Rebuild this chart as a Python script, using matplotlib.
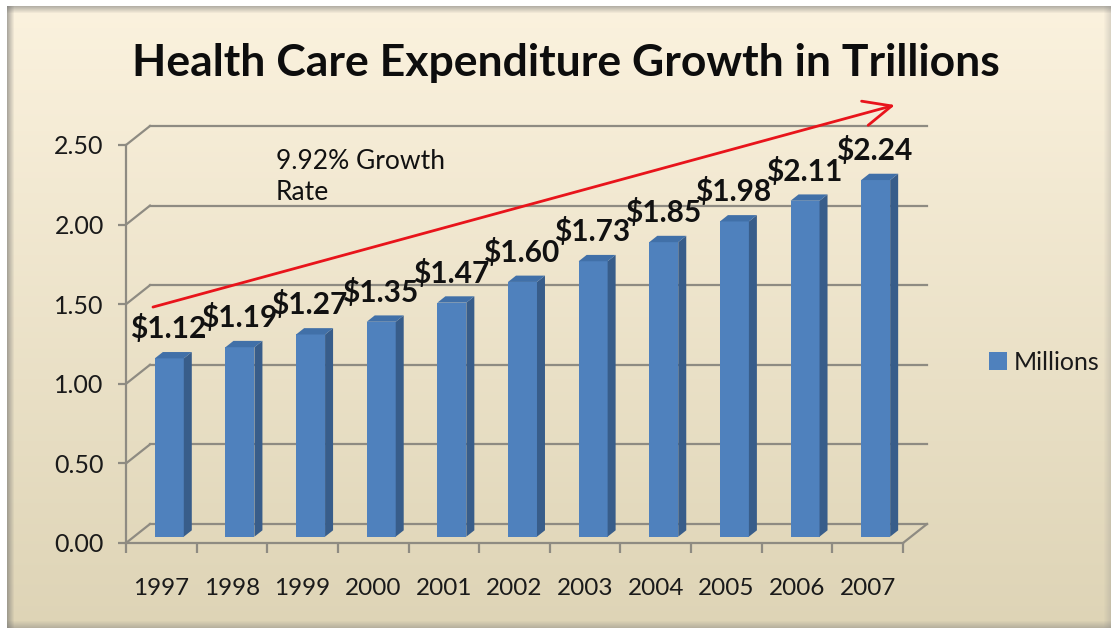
import matplotlib
matplotlib.use('Agg')
import matplotlib.pyplot as plt
import numpy as np
from matplotlib.patches import Polygon, Rectangle

# ---------------- data ----------------
years = ['1997', '1998', '1999', '2000', '2001', '2002', '2003', '2004', '2005', '2006', '2007']
values = [1.12, 1.19, 1.27, 1.35, 1.47, 1.60, 1.73, 1.85, 1.98, 2.11, 2.24]
value_labels = ['$1.12', '$1.19', '$1.27', '$1.35', '$1.47', '$1.60', '$1.73', '$1.85', '$1.98', '$2.11', '$2.24']
yticks = [0.0, 0.5, 1.0, 1.5, 2.0, 2.5]
ytick_labels = ['0.00', '0.50', '1.00', '1.50', '2.00', '2.50']
series_name = 'Millions'
title = 'Health Care Expenditure Growth in Trillions'
note = '9.92% Growth\nRate'

# ---------------- style ----------------
FONT = ['Lato', 'DejaVu Sans']
plt.rcParams['font.family'] = FONT
W, H = 1116, 632
BAR_FRONT = '#4F81BD'
BAR_SIDE = '#385D8A'
BAR_TOP = '#4170A8'
GRID = '#8E8B82'

fig = plt.figure(figsize=(W / 100, H / 100), dpi=100)
fig.patch.set_facecolor('white')

# background panel with vertical gradient
bx0, by0, bx1, by1 = 7, 6, 1111, 628
bg = fig.add_axes([bx0 / W, 1 - by1 / H, (bx1 - bx0) / W, (by1 - by0) / H], zorder=-10)
t = np.linspace(0, 1, 256)[:, None, None]
top_c = np.array([251, 242, 222]) / 255
bot_c = np.array([222, 212, 182]) / 255
img = top_c * (1 - t) + bot_c * t
bg.imshow(img, aspect='auto', extent=[0, 1, 0, 1], origin='upper')
bg.set_xlim(0, 1)
bg.set_ylim(0, 1)
bg.axis('off')
# soft shadow along edges
pw, ph = bx1 - bx0, by1 - by0
for k in range(7):
    a = 0.55 * (1 - k / 7)
    bg.add_patch(Rectangle((k / pw, 0), 1 / pw, 1, transform=bg.transAxes, color='#6e6e6e', alpha=a, lw=0))
    bg.add_patch(Rectangle((0, 1 - (k + 1) / ph), 1, 1 / ph, transform=bg.transAxes, color='#6e6e6e', alpha=a * 0.9, lw=0))
    bg.add_patch(Rectangle((1 - (k + 1) / pw, 0), 1 / pw, 1, transform=bg.transAxes, color='#8a8a8a', alpha=a * 0.5, lw=0))
    bg.add_patch(Rectangle((0, k / ph), 1, 1 / ph, transform=bg.transAxes, color='#7a7a7a', alpha=a * 0.7, lw=0))

# main axes = front plane of the 3-D box
ax = fig.add_axes([126 / W, 1 - 543 / H, 777 / W, 398 / H])
n = len(years)
ax.set_xlim(0, n)
ax.set_ylim(0, 2.5)
ax.patch.set_alpha(0)
for s in ['top', 'right']:
    ax.spines[s].set_visible(False)
for s in ['left', 'bottom']:
    ax.spines[s].set_color(GRID)
    ax.spines[s].set_linewidth(1.6)

# depth offsets (data units)
DX = 24 / (777 / n)
DY = 19 / (398 / 2.5)

# back wall gridlines + side diagonals
for v in yticks:
    ax.plot([DX, n + DX], [v + DY, v + DY], color=GRID, lw=1.6, clip_on=False, zorder=1)
    ax.plot([0, DX], [v, v + DY], color=GRID, lw=1.6, clip_on=False, zorder=1)
ax.plot([n, n + DX], [0, DY], color=GRID, lw=1.6, clip_on=False, zorder=1)

# ticks
ax.set_yticks(yticks, ytick_labels)
ax.tick_params(axis='y', length=6, width=1.6, color=GRID, pad=10, labelsize=18, labelcolor='#1a1a1a')
ax.set_xticks(np.arange(0, n + 1))
ax.set_xticklabels([])
ax.tick_params(axis='x', which='major', length=7, width=1.6, color=GRID)
ax.set_xticks(np.arange(n) + 0.5, minor=True)
ax.set_xticklabels(years, minor=True)
ax.tick_params(axis='x', which='minor', length=0, pad=25, labelsize=17.5, labelcolor='#1a1a1a')

# bars
bw = 0.41
fx, fy = DX / 3, DY / 3
centers = np.arange(n) + 0.5 + fx
bars = ax.bar(centers, values, width=bw, bottom=fy, color=BAR_FRONT, zorder=3,
              clip_on=False, label=series_name, linewidth=0)
for rect, v, lbl in zip(bars, values, value_labels):
    x0 = rect.get_x()
    y0 = rect.get_y()
    w = rect.get_width()
    h = rect.get_height()
    side = Polygon([(x0 + w, y0), (x0 + w + fx, y0 + fy), (x0 + w + fx, y0 + h + fy), (x0 + w, y0 + h)],
                   closed=True, facecolor=BAR_SIDE, edgecolor='none', zorder=3, clip_on=False)
    topp = Polygon([(x0, y0 + h), (x0 + w, y0 + h), (x0 + w + fx, y0 + h + fy), (x0 + fx, y0 + h + fy)],
                   closed=True, facecolor=BAR_TOP, edgecolor='none', zorder=3, clip_on=False)
    ax.add_patch(side)
    ax.add_patch(topp)
    ax.annotate(lbl, (x0 + w / 2, y0 + h), xytext=(-1, 20), textcoords='offset pixels',
                ha='center', va='baseline', fontsize=21.5, fontweight='bold', color='#111111',
                annotation_clip=False, zorder=5)

# growth arrow
ax.annotate('', xy=(10.886, 2.751), xytext=(0.382, 1.482),
            arrowprops=dict(arrowstyle='->,head_length=1.0,head_width=0.45', color='#E8141B', lw=2,
                            mutation_scale=20, shrinkA=0, shrinkB=0),
            annotation_clip=False, zorder=6)

# note text
fig.text(276 / W, 1 - 149 / H, note, ha='left', va='top', fontsize=19, color='#111111', linespacing=1.3)

# title
fig.text(566 / W, 1 - 63 / H, title, ha='center', va='center', fontsize=32, fontweight='bold', color='#0d0d0d')

# legend
ax.legend(loc='center left', bbox_to_anchor=(966 / W, 1 - 362 / H), bbox_transform=fig.transFigure,
          frameon=False, fontsize=18, handlelength=0.75, handleheight=0.75, handletextpad=0.25,
          labelcolor='#1a1a1a')

fig.savefig('out.png', dpi=100, facecolor=fig.get_facecolor())
